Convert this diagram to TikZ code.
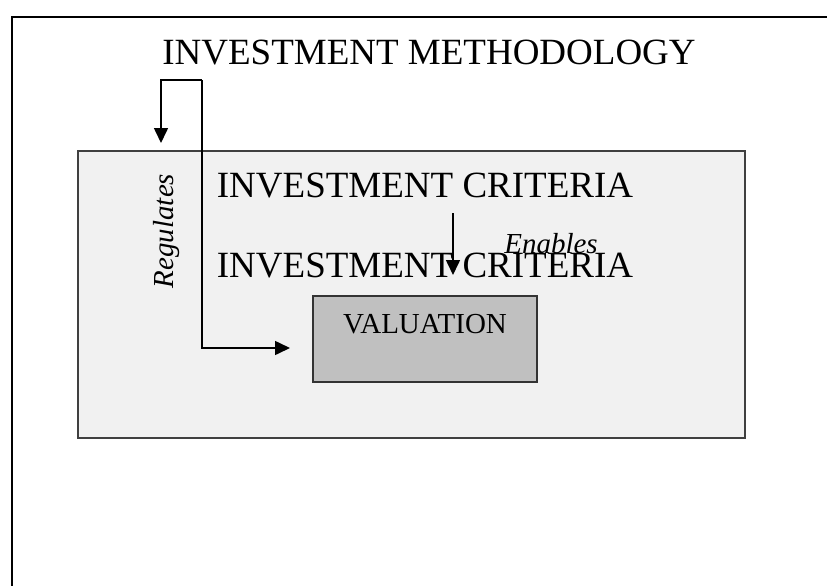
\documentclass[tikz,border=0pt]{standalone}
\usepackage{fontspec}
\setmainfont{Liberation Serif}
\usetikzlibrary{arrows.meta}
\begin{document}
\begin{tikzpicture}[x=1pt, y=-1pt,
    big/.style={font=\fontsize{37}{40}\selectfont, inner sep=0},
    small/.style={font=\fontsize{29}{32}\selectfont, inner sep=0},
    arr/.style={line width=1.6pt, -{Triangle[length=15pt, width=14pt]}}]
        \useasboundingbox (0,0) rectangle (827,586);
        \clip (0,0) rectangle (827,586);
        \draw[line width=2.2pt] (12,600) -- (12,17) -- (840,17);
        \node[big, anchor=base] (method) at (429,65) {INVESTMENT METHODOLOGY};
        \draw[fill={rgb,255:red,241;green,241;blue,241}, draw={rgb,255:red,64;green,64;blue,64}, line width=1.4pt] (78,151) rectangle (745,438);
        \node[big, anchor=base] (crit) at (425,197) {INVESTMENT CRITERIA};
        \node[big, anchor=base] (critb) at (425,277) {INVESTMENT CRITERIA};
        \node[small, anchor=base, font=\fontsize{29}{32}\selectfont\itshape] (enab) at (551,253) {Enables};
        \node[small, anchor=base, rotate=90, font=\fontsize{29}{32}\selectfont\itshape] (reg) at (173,231) {Regulates};
        \draw[fill={rgb,255:red,192;green,192;blue,192}, draw={rgb,255:red,51;green,51;blue,51}, line width=1.2pt] (313,296) rectangle (537,382);
        \node[small, anchor=base] (val) at (425,333) {VALUATION};
        \coordinate (split) at (202,80);
        \coordinate (regtip) at (161,143);
        \coordinate (valtip) at (290,348);
        \coordinate (entop) at (453,213);
        \coordinate (entip) at (453,275);
        \draw[arr] (split) -| (regtip);
        \draw[arr] (split) |- (valtip);
        \draw[arr] (entop) -- (entip);
    \end{tikzpicture}
\end{document}
